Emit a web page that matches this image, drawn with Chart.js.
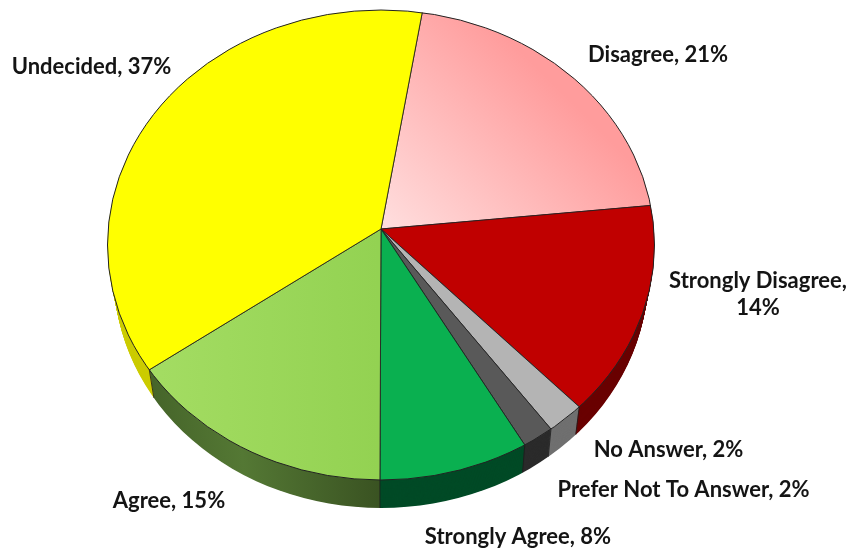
<!DOCTYPE html>
<html><head><meta charset="utf-8">
<style>html,body{margin:0;padding:0;background:#fff}canvas{display:block}</style>
<script src="https://cdn.jsdelivr.net/npm/chart.js@4/dist/chart.umd.min.js"></script>
</head><body>
<canvas id="c" width="849" height="548"></canvas>
<script>
const categories = ['Disagree','Strongly Disagree','No Answer','Prefer Not To Answer','Strongly Agree','Agree','Undecided'];
const values = [20.6,14.3,2.1,1.75,8.25,15,37];
const topColors = ['#ff9f9f','#c00000','#b4b4b4','#595959','#0ab050','#9ad75a','#ffff00'];
const wallColors = ['#800000','#6a0000','#707070','#2b2b2b','#004a26','#4a6a2b','#cccc00'];
const labelLines = [['Disagree, 21%'],['Strongly Disagree,','14%'],['No Answer, 2%'],['Prefer Not To Answer, 2%'],['Strongly Agree, 8%'],['Agree, 15%'],['Undecided, 37%']];
const labelSpots = [[658,55],[758,281],[668.5,450],[683.5,490],[518,537],[169,501],[91.5,67]];

const VIEW = {apexX:381, apexY:229, ellY:245, rx:273.5, ry:235, squash:0.86, k:1.15, depth:31, shrinkX:6.5, shrinkY:3};
const canvas = document.getElementById('c');

function view3d(t){
  return {
    apexY: VIEW.apexY + VIEW.depth*t,
    ellY: VIEW.ellY + VIEW.depth*t,
    rx: VIEW.rx - VIEW.shrinkX*t,
    ry: VIEW.ry - VIEW.shrinkY*t,
    k: VIEW.k*(1 - VIEW.shrinkX*t/VIEW.rx)
  };
}
function drawLayer(chart, t, fills, bw){
  const ctx = chart.ctx, v = view3d(t), meta = chart.getDatasetMeta(0);
  const a0 = meta.data[0];
  ctx.save();
  ctx.beginPath();
  ctx.ellipse(VIEW.apexX, v.ellY, v.rx, v.ry, 0, 0, Math.PI*2);
  ctx.clip();
  ctx.translate(VIEW.apexX, v.apexY);
  ctx.scale(v.k, v.k*VIEW.squash);
  ctx.translate(-a0.x, -a0.y);
  meta.data.forEach((arc,i)=>{
    const keep = arc.options;
    arc.options = {backgroundColor:fills[i], borderColor:'#222', borderWidth:bw, borderAlign:'center',
      offset:0, spacing:0, borderRadius:0, borderJoinStyle:'round', circular:true, borderDash:[], borderDashOffset:0};
    arc.draw(ctx);
    arc.options = keep;
  });
  ctx.restore();
}
function rimPoint(angle, t){
  const v = view3d(t);
  const dx = Math.cos(angle), dy = VIEW.squash*Math.sin(angle);
  const off = v.apexY - v.ellY;
  const A = dx*dx/(v.rx*v.rx) + dy*dy/(v.ry*v.ry);
  const B = 2*off*dy/(v.ry*v.ry);
  const C = off*off/(v.ry*v.ry) - 1;
  const s = (-B + Math.sqrt(B*B - 4*A*C))/(2*A);
  return [VIEW.apexX + s*dx, v.apexY + s*dy];
}
const pie3d = {
  id:'pie3d',
  beforeDatasetsDraw(chart){
    const ctx = chart.ctx, meta = chart.getDatasetMeta(0), a0 = meta.data[0];
    const toUser = (x,y)=>[a0.x + (x-VIEW.apexX)/VIEW.k, a0.y + (y-VIEW.apexY)/(VIEW.k*VIEW.squash)];

    const pinkEnds = [toUser(390,225), toUser(565,95)];
    const pink = ctx.createLinearGradient(pinkEnds[0][0],pinkEnds[0][1],pinkEnds[1][0],pinkEnds[1][1]);
    pink.addColorStop(0,'#ffdcdc'); pink.addColorStop(1,'#ff9c9c');
    const agreeEnds = [toUser(160,300), toUser(378,300)];
    const agree = ctx.createLinearGradient(agreeEnds[0][0],agreeEnds[0][1],agreeEnds[1][0],agreeEnds[1][1]);
    agree.addColorStop(0,'#a3dc62'); agree.addColorStop(1,'#93d252');
    const tops = topColors.slice(); tops[0]=pink; tops[5]=agree;

    const wallEnds = [toUser(150,400), toUser(378,400)];
    const wallA = ctx.createLinearGradient(wallEnds[0][0],wallEnds[0][1],wallEnds[1][0],wallEnds[1][1]);
    wallA.addColorStop(0,'#46652a'); wallA.addColorStop(0.4,'#547834'); wallA.addColorStop(1,'#3a5322');
    const walls = wallColors.slice(); walls[5]=wallA;

    for(let d=VIEW.depth; d>=1; d--) drawLayer(chart, d/VIEW.depth, walls, 0);

    ctx.save();
    ctx.strokeStyle='#1c1c1c'; ctx.lineWidth=0.8;
    meta.data.forEach(arc=>{
      if(Math.sin(arc.startAngle)<=0) return;
      const p=rimPoint(arc.startAngle,0), q=rimPoint(arc.startAngle,1);
      ctx.beginPath(); ctx.moveTo(p[0],p[1]); ctx.lineTo(q[0],q[1]); ctx.stroke();
    });
    ctx.restore();

    drawLayer(chart, 0, tops, 0.8);

    ctx.save();
    ctx.strokeStyle='#222'; ctx.lineWidth=1;
    ctx.beginPath();
    ctx.ellipse(VIEW.apexX, VIEW.ellY, VIEW.rx, VIEW.ry, 0, 0, Math.PI*2);
    ctx.stroke();
    ctx.restore();
    return false;
  },
  afterDraw(chart){
    const ctx = chart.ctx;
    ctx.save();
    ctx.fillStyle='#141414';
    ctx.font='bold 22px Lato';
    ctx.textAlign='center'; ctx.textBaseline='middle';
    labelLines.forEach((lines,i)=>{
      lines.forEach((s,j)=>ctx.fillText(s, labelSpots[i][0], labelSpots[i][1]+j*27));
    });
    ctx.restore();
  }
};
new Chart(canvas,{
  type:'pie',
  data:{labels:categories,datasets:[{data:values,backgroundColor:topColors,borderWidth:0}]},
  options:{
    responsive:false, animation:false, radius:270, rotation:9.3,
    layout:{padding:0},
    plugins:{legend:{display:false},title:{display:false},tooltip:{enabled:false}}
  },
  plugins:[pie3d]
});
</script>
</body></html>
